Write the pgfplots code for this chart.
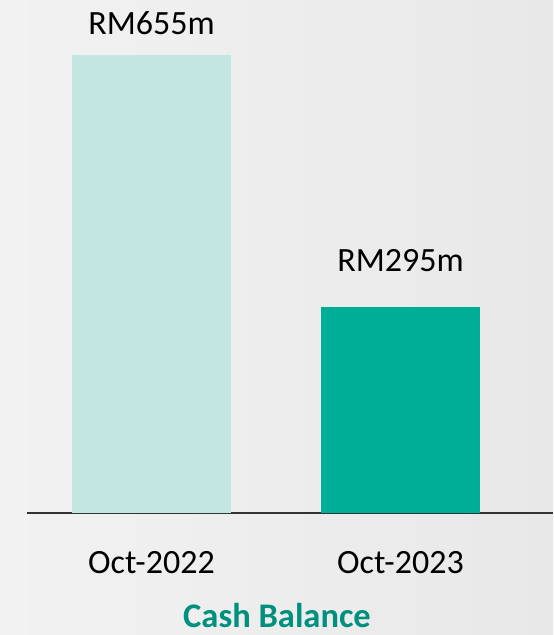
\documentclass[border=0pt]{standalone}
\usepackage{pgfplots}
\pgfplotsset{compat=1.18}
\usepackage{fontspec}
\setmainfont{Carlito}
\definecolor{bglight}{HTML}{F2F2F2}
\definecolor{bgdark}{HTML}{E8E8E9}
\definecolor{barA}{HTML}{C4E6E3}
\definecolor{barB}{HTML}{00AE98}
\definecolor{teal}{HTML}{00907E}
\definecolor{axisc}{HTML}{333333}
\begin{document}
\begin{tikzpicture}[x=1pt,y=1pt]
\shade[left color=bglight, right color=bgdark] (0,0) rectangle (553,635);
\begin{axis}[
  at={(27pt,122pt)}, anchor=origin,
  scale only axis, width=526pt, height=458pt,
  xmin=27, xmax=553, ymin=0, ymax=655,
  clip=false,
  axis x line*=bottom, axis y line=none,
  x axis line style={-, draw=axisc, line width=2pt},
  xtick={151.5,400.5}, xticklabels={Oct-2022,Oct-2023},
  major tick length=0pt,
  xticklabel style={anchor=base, yshift=-60pt, font=\fontsize{34}{40}\selectfont},
  xlabel={\textbf{Cash Balance}},
  xlabel style={at={(axis description cs:0.4753,0)}, anchor=base, yshift=-114pt,
    font=\fontsize{34.5}{40}\selectfont, text=teal},
  ybar, bar width=159pt, bar shift=0pt,
  nodes near coords,
  every node near coord/.append style={anchor=base, text=black,
    font=\fontsize{34}{40}\selectfont},
]
\addplot[fill=barA, draw=none, nodes near coords={RM655m},
  every node near coord/.append style={yshift=20pt}] coordinates {(151.5,655)};
\addplot[fill=barB, draw=none, nodes near coords={RM295m},
  every node near coord/.append style={yshift=35pt}] coordinates {(400.5,295)};
\end{axis}
\end{tikzpicture}
\end{document}
